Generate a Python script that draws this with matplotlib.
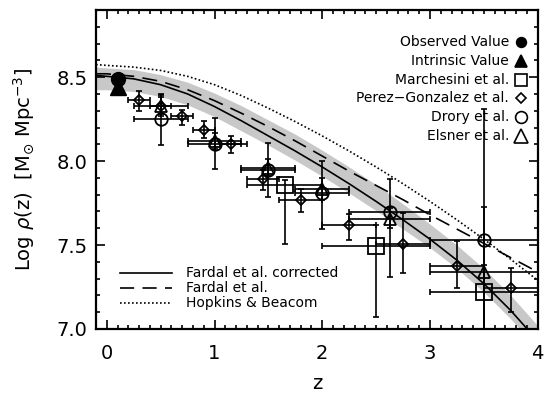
import numpy as np
import matplotlib.pyplot as plt
from matplotlib.ticker import MultipleLocator, FormatStrFormatter

# model curves, log rho vs z
z_mod = [-0.1, 0.0, 0.25, 0.5, 0.75, 1.0, 1.25, 1.5, 1.75, 2.0, 2.25, 2.5, 2.75, 3.0, 3.25, 3.5, 3.75, 4.0]
fardal_corr = [8.51, 8.505, 8.49, 8.455, 8.40, 8.325, 8.24, 8.15, 8.06, 7.965, 7.865, 7.76, 7.65, 7.535, 7.41, 7.27, 7.11, 6.93]
band_hi = [8.56, 8.555, 8.545, 8.515, 8.47, 8.405, 8.33, 8.245, 8.16, 8.065, 7.965, 7.86, 7.745, 7.625, 7.50, 7.36, 7.20, 7.02]
band_lo = [8.425, 8.425, 8.415, 8.385, 8.335, 8.265, 8.18, 8.095, 8.005, 7.91, 7.81, 7.705, 7.595, 7.485, 7.36, 7.22, 7.06, 6.88]
fardal = [8.52, 8.52, 8.505, 8.475, 8.425, 8.36, 8.285, 8.205, 8.12, 8.03, 7.94, 7.855, 7.77, 7.68, 7.595, 7.51, 7.425, 7.34]
hopkins = [8.575, 8.57, 8.56, 8.54, 8.505, 8.455, 8.39, 8.315, 8.235, 8.15, 8.06, 7.965, 7.865, 7.76, 7.65, 7.535, 7.415, 7.29]

# this work
z_obs = [0.1]
rho_obs = [8.49]
z_int = [0.1]
rho_int = [8.44]

# Marchesini et al.
z_mar = [1.65, 2.5, 3.5]
zlo_mar = [1.3, 2.0, 3.0]
zhi_mar = [2.0, 3.0, 4.0]
rho_mar = [7.856, 7.495, 7.222]
rlo_mar = [7.505, 7.073, 6.75]
rhi_mar = [7.885, 7.618, 7.384]

# Perez-Gonzalez et al.
z_pg = [0.3, 0.5, 0.7, 0.9, 1.15, 1.45, 1.8, 2.25, 2.75, 3.25, 3.75]
zlo_pg = [0.2, 0.4, 0.6, 0.8, 1.05, 1.3, 1.6, 2.0, 2.5, 3.0, 3.5]
zhi_pg = [0.4, 0.6, 0.8, 1.0, 1.3, 1.6, 2.0, 2.5, 3.0, 3.5, 4.0]
rho_pg = [8.362, 8.33, 8.27, 8.188, 8.099, 7.895, 7.766, 7.618, 7.509, 7.376, 7.242]
rlo_pg = [8.30, 8.28, 8.218, 8.137, 8.048, 7.826, 7.697, 7.533, 7.331, 7.242, 7.103]
rhi_pg = [8.418, 8.38, 8.307, 8.238, 8.149, 7.945, 7.836, 7.687, 7.691, 7.523, 7.364]

# Drory et al.
z_dr = [0.5, 1.0, 1.5, 2.0, 2.625, 3.5]
zlo_dr = [0.25, 0.75, 1.25, 1.75, 2.25, 3.0]
zhi_dr = [0.75, 1.25, 1.75, 2.25, 3.0, 4.0]
rho_dr = [8.25, 8.103, 7.949, 7.81, 7.697, 7.529]
rlo_dr = [8.093, 7.955, 7.786, 7.594, 7.31, 6.70]
rhi_dr = [8.40, 8.258, 8.107, 7.998, 7.895, 8.31]

# Elsner et al.
z_el = [0.5, 1.0, 1.5, 2.0, 2.625, 3.5]
zlo_el = [0.25, 0.75, 1.25, 1.75, 2.25, 3.0]
zhi_el = [0.75, 1.25, 1.75, 2.25, 3.0, 4.0]
rho_el = [8.33, 8.12, 7.96, 7.836, 7.658, 7.34]
rlo_el = [8.27, 8.07, 7.91, 7.77, 7.60, 6.84]
rhi_el = [8.395, 8.17, 8.01, 7.90, 7.72, 7.727]

DASH = (0, (9, 5))
DOT = (0, (1, 1.4))

fig = plt.figure(figsize=(5.47, 3.94), dpi=100)
ax = fig.add_axes([96/547, 1-329/394, 441.7/547, 319/394])

ax.fill_between(z_mod, band_lo, band_hi, color='#c8c8c8', lw=0, zorder=1)
ax.plot(z_mod, fardal_corr, 'k-', lw=1.2, zorder=2)
ax.plot(z_mod, fardal, 'k', ls=DASH, lw=1.2, zorder=2)
ax.plot(z_mod, hopkins, 'k', ls=DOT, lw=1.2, zorder=2)

def points(z, zlo, zhi, rho, rlo, rhi, marker, ms):
    z = np.array(z); rho = np.array(rho)
    xerr = [z - np.array(zlo), np.array(zhi) - z]
    yerr = [rho - np.array(rlo), np.array(rhi) - rho]
    ax.errorbar(z, rho, xerr=xerr, yerr=yerr, fmt='none', ecolor='k',
                elinewidth=1.2, capsize=2.2, capthick=1.2, zorder=3)
    ax.plot(z, rho, ls='none', marker=marker, ms=ms, mfc='none', mec='k', mew=1.3, zorder=4)

points(z_pg, zlo_pg, zhi_pg, rho_pg, rlo_pg, rhi_pg, 'D', 5)
points(z_mar, zlo_mar, zhi_mar, rho_mar, rlo_mar, rhi_mar, 's', 11)
points(z_dr, zlo_dr, zhi_dr, rho_dr, rlo_dr, rhi_dr, 'o', 9)
points(z_el, zlo_el, zhi_el, rho_el, rlo_el, rhi_el, '^', 9)

ax.plot(z_int, rho_int, ls='none', marker='^', ms=12, color='k', zorder=5)
ax.plot(z_obs, rho_obs, ls='none', marker='o', ms=10, color='k', zorder=5)

# symbol key, top right
keys = [('Observed Value', 'o', 7, 'k'),
        ('Intrinsic Value', '^', 8, 'k'),
        ('Marchesini et al.', 's', 9, 'none'),
        (u'Perez\u2212Gonzalez et al.', 'D', 5, 'none'),
        ('Drory et al.', 'o', 8.5, 'none'),
        ('Elsner et al.', '^', 9.5, 'none')]
for i, (lab, m, s, fc) in enumerate(keys):
    yk = 0.8987 - i*0.0585
    ax.text(0.935, yk, lab, transform=ax.transAxes, ha='right', va='center', fontsize=10)
    ax.plot([0.962], [yk], transform=ax.transAxes, marker=m, ms=s, mfc=fc, mec='k', mew=1.2,
            ls='none', clip_on=False)

# line key, bottom left
lkeys = [('Fardal et al. corrected', '-'),
         ('Fardal et al.', (0, (8.5, 5))),
         ('Hopkins & Beacom', DOT)]
for i, (lab, st) in enumerate(lkeys):
    yk = 0.1746 - i*0.0461
    ax.plot([0.054, 0.171], [yk, yk], transform=ax.transAxes, color='k', ls=st, lw=1.2)
    ax.text(0.203, yk, lab, transform=ax.transAxes, ha='left', va='center', fontsize=10)

ax.set_xlim(-0.1, 4.0)
ax.set_ylim(7.0, 8.9)
ax.xaxis.set_major_locator(MultipleLocator(1))
ax.xaxis.set_minor_locator(MultipleLocator(0.1))
ax.yaxis.set_major_locator(MultipleLocator(0.5))
ax.yaxis.set_minor_locator(MultipleLocator(0.1))
ax.yaxis.set_major_formatter(FormatStrFormatter('%.1f'))
ax.tick_params(which='both', direction='in', top=True, right=True, width=1.2, labelsize=14)
ax.tick_params(which='major', length=6.5)
ax.tick_params(which='minor', length=3)
ax.tick_params(axis='x', pad=11)
ax.tick_params(axis='y', pad=6)
for sp in ax.spines.values():
    sp.set_linewidth(1.6)

ax.set_xlabel('z', fontsize=14, labelpad=8)
ax.set_ylabel(r'Log $\rho$(z)  [M$_{\odot}$ Mpc$^{-3}$]', fontsize=14, labelpad=14)

fig.savefig('out.png', dpi=100)
